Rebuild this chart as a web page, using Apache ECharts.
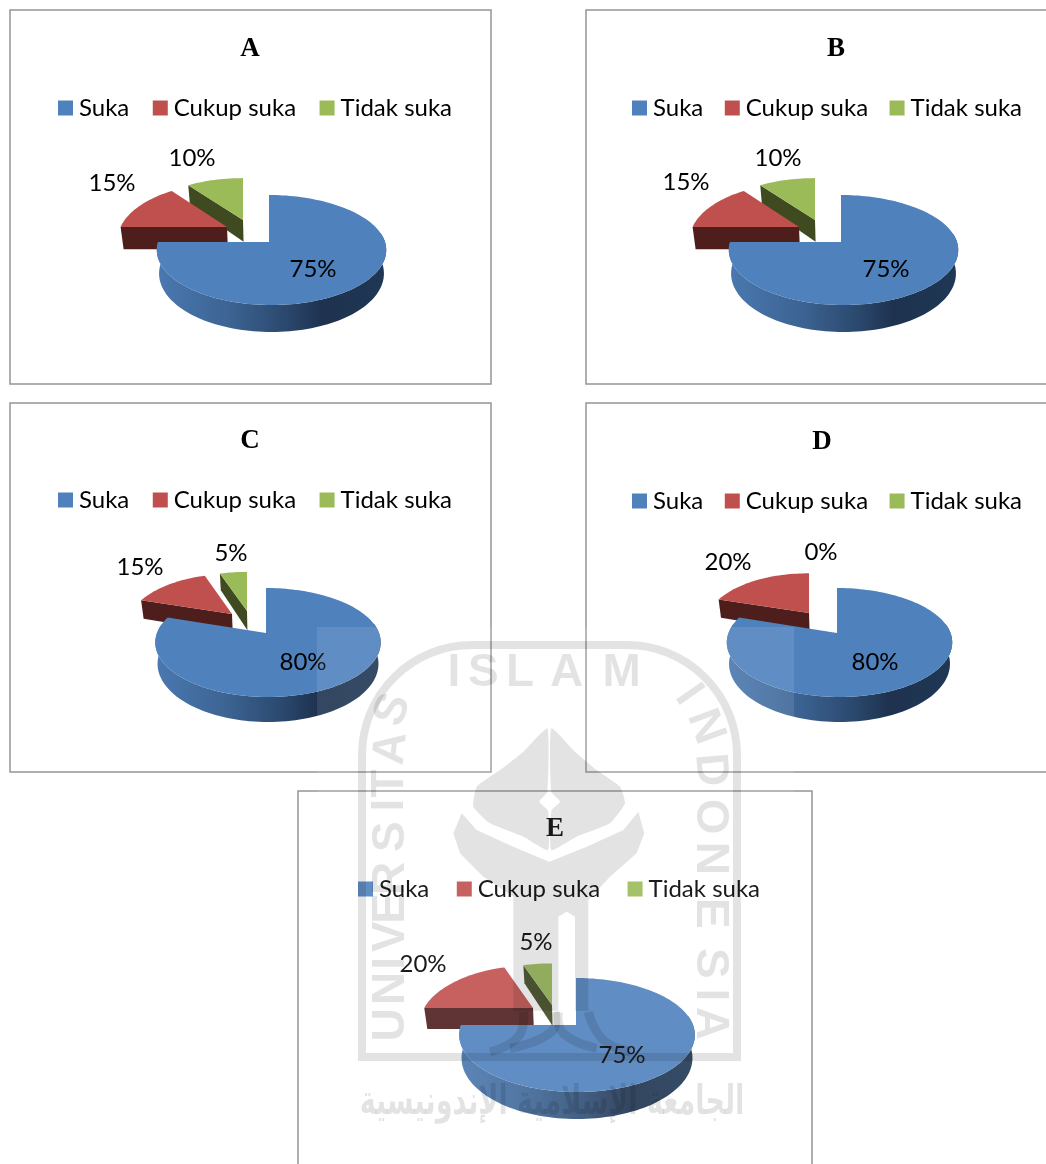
<!DOCTYPE html>
<html style="height: 100%">
<head>
<meta charset="utf-8">
</head>
<body style="height: 100%; margin: 0; background: #fff">
<div id="container" style="width: 1046px; height: 1164px"></div>
<script src="https://cdn.jsdelivr.net/npm/echarts@6/dist/echarts.min.js"></script>
<script>
var categories = ['Suka', 'Cukup suka', 'Tidak suka'];
var panelNames = ['A', 'B', 'C', 'D', 'E'];
var valuesA = [75, 15, 10];
var valuesB = [75, 15, 10];
var valuesC = [80, 15, 5];
var valuesD = [80, 20, 0];
var valuesE = [75, 20, 5];
var panelValues = [valuesA, valuesB, valuesC, valuesD, valuesE];

var colors = ['#4f81bd', '#c0504d', '#9bbb59'];
var wallColors = ['#1f3855', '#4e1e1d', '#3f4a21'];
var FONT = 'Lato';

// geometry of each little pie
// ax/ay: tip of the first slice, cx/rx: rim, up/down: rim reach above and below the tip
var layouts = [
    {frame: [10, 10, 481, 374], title: [250, 49], legend: [58, 96, 23.5], cx: 271.5, rx: 113.5, ax: 269, ay: 242, up: 47, down: 63, depth: 27,
        shift: [[0, 0], [-42, -15], [-26, -22]], labels: [[313, 269], [112, 183], [192, 158]]},
    {frame: [586, 10, 480, 374], title: [836, 49], legend: [632, 96, 21.5], cx: 843.5, rx: 113.5, ax: 841, ay: 242, up: 47, down: 63, depth: 27,
        shift: [[0, 0], [-42, -15], [-26, -22]], labels: [[886, 269], [686, 182], [778, 158]]},
    {frame: [10, 403, 481, 369], title: [250, 441], legend: [58, 488, 23.5], cx: 268, rx: 111, ax: 266, ay: 633, up: 45, down: 64, depth: 25,
        shift: [[0, 0], [-34, -19], [-19, -22]], labels: [[303, 662], [140, 567], [231, 553]]},
    {frame: [586, 403, 480, 369], title: [822, 442], legend: [632, 489, 21.5], cx: 839.5, rx: 111, ax: 837, ay: 633, up: 45, down: 64, depth: 25,
        shift: [[0, 0], [-28, -20], [0, 0]], labels: [[875, 662], [728, 562], [821, 552]]},
    {frame: [298, 791, 514, 400], title: [555, 829], legend: [358, 877, 27.5], cx: 577, rx: 116, ax: 576, ay: 1025, up: 47, down: 67, depth: 27,
        shift: [[0, 0], [-43, -17], [-24, -20]], labels: [[622, 1055], [423, 964], [536, 942]]}
];

function sliceShapes(p, catIndex, start, value, label) {
    var k = (p.down - p.up) / (p.down + p.up);
    var ry = p.down * (1 - k);
    var dx = p.shift[catIndex][0];
    var dy = p.shift[catIndex][1];
    var v0 = dy / (ry + k * dy);
    var rimU = dx * (1 - k * v0) / p.rx;
    var tipU = rimU + (p.ax - p.cx) / p.rx * (1 - k * v0);

    function top(u, v) {
        var w = 1 - k * v;
        return [p.cx + p.rx * u / w, p.ay + ry * v / w, v];
    }
    function bottom(pt) {
        return [p.cx + (pt[0] - p.cx) * 0.98, pt[1] + p.depth * (1 - k) / (1 - k * pt[2])];
    }
    var tip = top(tipU, v0);

    function rim(deg) {
        var a = deg * Math.PI / 180;
        var c = Math.cos(a);
        var pt = top(rimU + Math.sin(a), v0 - c);
        // far side of the rim leans back to the tip's column, as in the scan
        if (c > 0) {
            pt[0] += c * c * (tip[0] - top(rimU, v0 - c)[0]);
        }
        return pt;
    }

    var shapes = [];
    var textEl = {
        type: 'text',
        style: {text: label, x: p.labels[catIndex][0], y: p.labels[catIndex][1], fill: '#000',
            font: '24px ' + FONT, align: 'center', verticalAlign: 'middle'}
    };
    if (value <= 0) {
        return [textEl];
    }

    var end = start + value * 3.6;
    var first = rim(start);

    // radial wall along the leading edge
    shapes.push({type: 'polygon', shape: {points: [tip, first, bottom(first), bottom(tip)].map(function (q) {
        return [q[0], q[1]];
    })}, style: {fill: wallColors[catIndex]}});

    // curved outer wall, only for a slice reaching the front of the pie
    if (start < 180) {
        var from = Math.max(start, 80);
        var to = Math.min(end, 280);
        var upper = [], lower = [];
        for (var d = from; d <= to; d += 2) {
            var q = rim(d);
            upper.push([q[0], q[1]]);
            lower.unshift(bottom(q));
        }
        shapes.push({type: 'polygon', shape: {points: upper.concat(lower)}, style: {
            fill: new echarts.graphic.LinearGradient(0, 0, 1, 0, [
                {offset: 0, color: '#4a78b0'},
                {offset: 0.3, color: '#3d6595'},
                {offset: 0.55, color: '#2c4a70'},
                {offset: 0.72, color: '#1e324f'},
                {offset: 1, color: '#1f3855'}
            ])
        }});
    }

    // top face
    var points = [[tip[0], tip[1]]];
    for (var t = start; t < end; t += 2) {
        var r = rim(t);
        points.push([r[0], r[1]]);
    }
    var last = rim(end);
    points.push([last[0], last[1]]);
    shapes.push({type: 'polygon', shape: {points: points}, style: {fill: colors[catIndex]}});
    shapes.push(textEl);
    return shapes;
}

// one custom series per slice; blue goes last because it covers the other two
var series = [];
panelValues.forEach(function (values, pi) {
    [2, 1, 0].forEach(function (ci) {
        var start = 0;
        for (var i = 0; i < ci; i++) {
            start += values[i] * 3.6;
        }
        series.push({
            type: 'custom',
            name: categories[ci],
            coordinateSystem: 'none',
            silent: true,
            itemStyle: {color: colors[ci]},
            data: [[start, values[ci]]],
            renderItem: function (params, api) {
                return {
                    type: 'group',
                    children: sliceShapes(layouts[pi], ci, api.value(0), api.value(1), api.value(1) + '%')
                };
            }
        });
    });
});

var legends = layouts.map(function (p) {
    return {
        data: categories,
        left: p.legend[0],
        top: p.legend[1],
        padding: 0,
        icon: 'rect',
        itemWidth: 15,
        itemHeight: 15,
        itemGap: p.legend[2],
        selectedMode: false,
        textStyle: {fontFamily: FONT, fontSize: 24, color: '#000', padding: [0, 0, 0, 1]}
    };
});

var graphics = [];
layouts.forEach(function (p, i) {
    graphics.push({
        type: 'rect', z: 0, silent: true,
        shape: {x: p.frame[0], y: p.frame[1], width: p.frame[2], height: p.frame[3]},
        style: {fill: 'none', stroke: '#959595', lineWidth: 1.5}
    });
    graphics.push({
        type: 'text', z: 5, silent: true,
        style: {text: panelNames[i], x: p.title[0], y: p.title[1], fill: '#000',
            font: 'bold 27px "Liberation Serif"', align: 'center', verticalAlign: 'middle'}
    });
});

// university watermark laid over the page; coordinates are in crop units of the scan
var WM = 'rgba(0,0,0,0.11)';
function wm(list) {
    return list.map(function (q) {
        return [310 + q[0] / 3, 620 + q[1] / 3];
    });
}
graphics.push({type: 'rect', z: 50, silent: true, shape: {x: 317, y: 627, width: 477, height: 537},
    style: {fill: 'rgba(255,255,255,0.1)'}});
graphics.push({type: 'rect', z: 51, silent: true, shape: {x: 362, y: 645, width: 375, height: 412, r: [110, 110, 0, 0]},
    style: {fill: 'none', stroke: WM, lineWidth: 8}});
[
    [[712, 325], [640, 395], [570, 450], [500, 500], [490, 560], [540, 610], [640, 650], [714, 690], [714, 572], [688, 545], [712, 515]],
    [[724, 325], [795, 395], [860, 450], [930, 500], [945, 550], [900, 610], [800, 650], [724, 690], [724, 572], [750, 545], [724, 515]]
].forEach(function (pts) {
    graphics.push({type: 'polygon', z: 51, silent: true, shape: {points: wm(pts), smooth: 0.15}, style: {fill: WM}});
});
graphics.push({type: 'polygon', z: 51, silent: true, shape: {points: wm([
    [455, 580], [500, 630], [610, 680], [718, 725], [830, 680], [940, 630], [985, 575], [1003, 640], [980, 700], [900, 770],
    [835, 840], [835, 1172], [795, 1172], [795, 890], [770, 875], [745, 890], [745, 1172], [610, 1172], [610, 830], [520, 770], [450, 700], [430, 640]
])}, style: {fill: WM}});
[
    [[640, 1176], [625, 1250], [540, 1295]],
    [[735, 1176], [725, 1235], [600, 1285]],
    [[745, 1176], [760, 1240], [860, 1285]],
    [[835, 1176], [880, 1260], [960, 1295]]
].forEach(function (pts) {
    graphics.push({type: 'polyline', z: 51, silent: true, shape: {points: wm(pts), smooth: 0.5},
        style: {fill: 'none', stroke: WM, lineWidth: 9}});
});
var wmLetters = [
    ['I', 432, 160, 0], ['S', 520, 160, 0], ['L', 630, 160, 0], ['A', 770, 160, 0], ['M', 935, 160, 0],
    ['U', 245, 1215, 90], ['N', 245, 1105, 90], ['I', 245, 1030, 90], ['V', 245, 950, 90], ['E', 245, 865, 90], ['R', 245, 775, 90],
    ['S', 245, 650, 90], ['I', 240, 555, 90], ['T', 240, 490, 90], ['A', 245, 385, 84], ['S', 250, 270, 70],
    ['I', 1135, 225, -55], ['N', 1185, 320, -70], ['D', 1200, 450, -85], ['O', 1200, 590, -90], ['N', 1200, 715, -90],
    ['E', 1200, 880, -90], ['S', 1200, 1030, -90], ['I', 1200, 1125, -90], ['A', 1200, 1210, -90]
];
wmLetters.forEach(function (l) {
    var c = wm([[l[1], l[2]]])[0];
    graphics.push({
        type: 'text', z: 51, silent: true, x: c[0], y: c[1], rotation: l[3] * Math.PI / 180,
        style: {text: l[0], x: 0, y: 0, fill: WM, font: 'bold 46px "Liberation Sans"', align: 'center', verticalAlign: 'middle'}
    });
});
graphics.push({
    type: 'text', z: 51, silent: true, x: 552, y: 1103, scaleY: 1.5,
    style: {text: 'الجامعة الإسلامية الإندونيسية', x: 0, y: 0, fill: WM,
        font: 'bold 27px "DejaVu Sans"', align: 'center', verticalAlign: 'middle'}
});

var dom = document.getElementById('container');
var myChart = echarts.init(dom);
myChart.setOption({
    animation: false,
    backgroundColor: '#fff',
    legend: legends,
    series: series,
    graphic: {elements: graphics}
});
</script>
</body>
</html>
